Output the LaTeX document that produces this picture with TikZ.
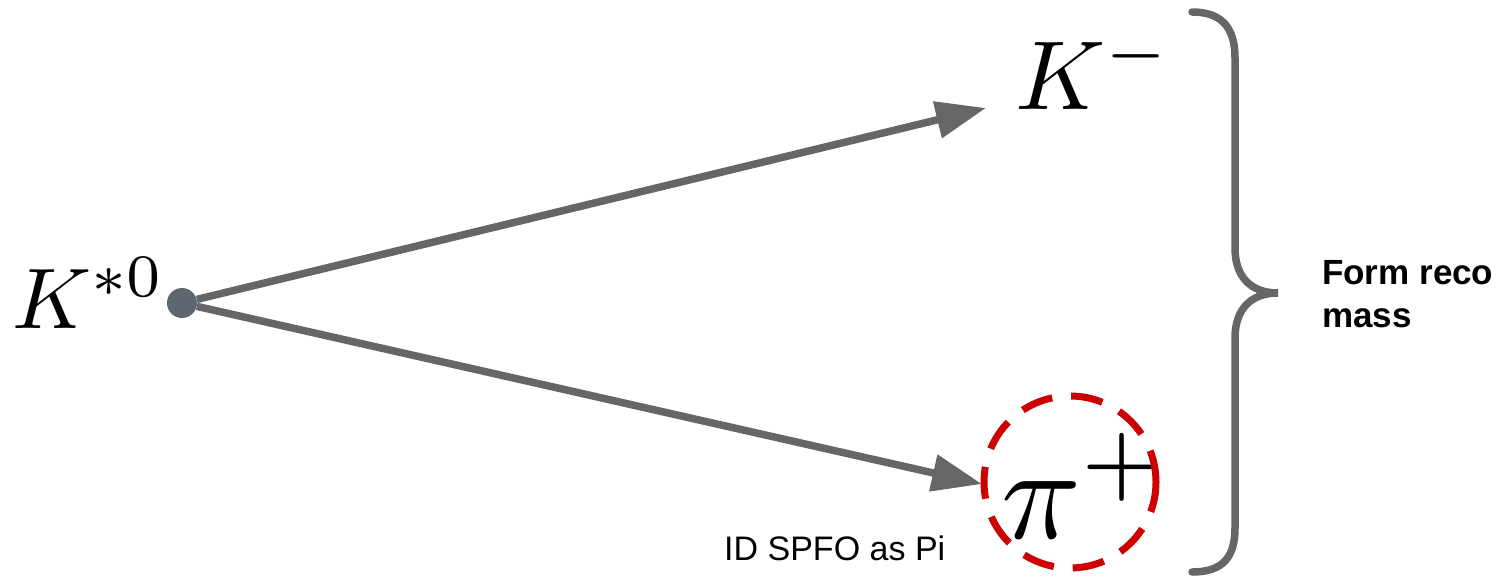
\documentclass[tikz,border=0pt]{standalone}
\usepackage{graphicx}
\usepackage{fontspec}
\setsansfont{Liberation Sans}
\usetikzlibrary{arrows.meta}
\definecolor{linegray}{HTML}{666666}
\definecolor{dotgray}{HTML}{5F6670}
\definecolor{dashred}{HTML}{CC0000}
\tikzset{
  decay/.style={draw=linegray, line width=7.5pt, -{Triangle[length=50pt,width=36pt]}},
  vertexdot/.style={circle, fill=dotgray, minimum size=30pt, inner sep=0pt},
  particle/.style={inner sep=0pt, anchor=base west},
  idcircle/.style={circle, draw=dashred, line width=7pt, dash pattern=on 32pt off 19pt, minimum size=172pt, inner sep=0pt},
  bracestyle/.style={draw=linegray, line width=7.5pt, line cap=round},
  sidelabel/.style={inner sep=0pt, anchor=base west, font=\sffamily\bfseries\fontsize{35}{43}\selectfont, align=left},
  smalllabel/.style={inner sep=0pt, anchor=base west, font=\sffamily\fontsize{34}{40}\selectfont}
}
\begin{document}
\begin{tikzpicture}[x=1pt,y=-1pt]
\useasboundingbox (0,0) rectangle (1499,576);
\node[particle] (kstar) at (12,328) {\scalebox{8.6}{$K^{*0}$}};
\node[particle] (kminus) at (1015,109) {\scalebox{9.8}{$K^{-}$}};
\node[particle] (piplus) at (1001,538) {\scalebox{13.2}{$\pi^{+}$}};
\node[vertexdot] (vtx) at (182,303) {};
\coordinate (kmtip) at (986,108);
\coordinate (pitip) at (982,484);
\draw[decay] (vtx) -- (kmtip);
\draw[decay] (vtx) -- (pitip);
\node[idcircle] (pid) at (1070,482) {};
\draw[bracestyle] (1192,12) .. controls (1222,12) and (1235,28) .. (1235,58)
  -- (1235,248) .. controls (1235,278) and (1252,293) .. (1278,293)
  .. controls (1252,293) and (1235,308) .. (1235,338)
  -- (1235,528) .. controls (1235,558) and (1222,572) .. (1192,572);
\node[sidelabel] (reco) at (1322,327) {Form reco\\mass};
\node[smalllabel] (idlab) at (724,560) {ID SPFO as Pi};
\end{tikzpicture}
\end{document}
